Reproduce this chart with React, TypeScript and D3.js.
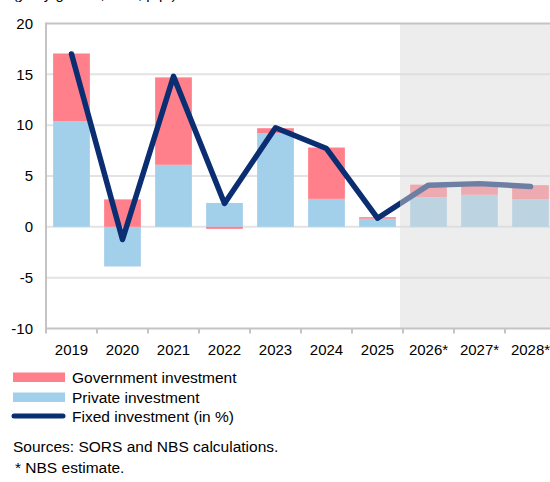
import React from "react";
import * as d3 from "d3";

const years = ["2019", "2020", "2021", "2022", "2023", "2024", "2025", "2026*", "2027*", "2028*"];
const privateInv = [10.4, -3.9, 6.1, 2.35, 9.2, 2.75, 0.8, 2.9, 3.15, 2.7];
const governmentInv = [6.65, 2.7, 8.6, -0.2, 0.5, 5.05, 0.15, 1.25, 0.9, 1.4];
const fixedInv = [17.0, -1.25, 14.8, 2.3, 9.75, 7.7, 0.85, 4.1, 4.25, 3.97];
const yTicks = [-10, -5, 0, 5, 10, 15, 20];
const forecastStart = "2026*";

const PINK = "#ff7f8b";
const BLUE = "#a2cfea";
const NAVY = "#0b2e73";
const FONT = "'Liberation Sans', Arial, sans-serif";

export default function App() {
  const W = 550, H = 482;
  const left = 46, right = 556, top = 23.5, bottom = 328.5;

  const x = d3.scaleBand<string>().domain(years).range([left, right]).paddingInner(0.28).paddingOuter(0.14);
  const step = x.step();
  const y = d3.scaleLinear().domain([-10, 20]).range([bottom, top]);

  const rows = years.map((yr, i) => ({ year: yr, priv: privateInv[i], gov: governmentInv[i] }));
  const stack = d3.stack<any>().keys(["priv", "gov"]).offset(d3.stackOffsetDiverging);
  const series = stack(rows);
  const colors: Record<string, string> = { priv: BLUE, gov: PINK };

  const center = (yr: string) => (x(yr) as number) + x.bandwidth() / 2;
  const line = d3.line<number>().x((_, i) => center(years[i])).y((d) => y(d));

  const catStart = (yr: string) => (x(yr) as number) - (step - x.bandwidth()) / 2;
  const shadeX = catStart(forecastStart) - 3;

  return (
    <svg width={W} height={H} style={{ position: "absolute", left: 0, top: 0 }} fontFamily={FONT}>
      <rect x={0} y={0} width={W} height={H} fill="#fff" />
      <text x={13} y={-0.8} fontSize={15} fill="#000">(y-o-y growth, in %; p.p.)</text>

      {yTicks.filter((t) => t !== 20 && t !== -10).map((t) => (
        <line key={t} x1={left} x2={W} y1={y(t)} y2={y(t)} stroke="#e3e3e3" strokeWidth={2} />
      ))}

      {series.map((s) => (
        <g key={s.key} fill={colors[s.key]}>
          {s.map((d, i) => (
            <rect key={i} x={x(years[i])} width={x.bandwidth()} y={y(Math.max(d[0], d[1]))}
              height={Math.abs(y(d[0]) - y(d[1]))} />
          ))}
        </g>
      ))}

      <path d={line(fixedInv) || ""} fill="none" stroke={NAVY} strokeWidth={5.5}
        strokeLinejoin="round" strokeLinecap="round" />

      <rect x={shadeX} y={top} width={W - shadeX} height={bottom - top} fill="rgb(217,217,217)" fillOpacity={0.48} />

      <line x1={left} x2={W} y1={y(20)} y2={y(20)} stroke="#c4c4c4" strokeWidth={2} />
      <line x1={left} x2={left} y1={top - 1} y2={bottom + 5} stroke="#c4c4c4" strokeWidth={2} />
      <line x1={left} x2={W} y1={bottom} y2={bottom} stroke="#c4c4c4" strokeWidth={2} />
      {years.map((yr) => (
        <line key={yr} x1={catStart(yr) + step} x2={catStart(yr) + step} y1={bottom} y2={bottom + 5}
          stroke="#c4c4c4" strokeWidth={2} />
      ))}

      {yTicks.map((t) => (
        <text key={t} x={33} y={y(t)} dy="0.35em" textAnchor="end" fontSize={15} fill="#000">{t}</text>
      ))}
      {years.map((yr) => (
        <text key={yr} x={center(yr)} y={355} textAnchor="middle" fontSize={15} fill="#000">{yr}</text>
      ))}

      <rect x={13} y={372.5} width={52} height={9.5} fill={PINK} />
      <text x={72} y={382.5} fontSize={15.5} fill="#000">Government investment</text>
      <rect x={13} y={392.5} width={52} height={9.5} fill={BLUE} />
      <text x={72} y={402.5} fontSize={15.5} fill="#000">Private investment</text>
      <line x1={14} x2={63} y1={416} y2={416} stroke={NAVY} strokeWidth={5} strokeLinecap="round" />
      <text x={72} y={421.5} fontSize={15.5} fill="#000">Fixed investment (in %)</text>

      <text x={13} y={452} fontSize={15.5} fill="#000">Sources: SORS and NBS calculations.</text>
      <text x={15} y={473} fontSize={15.5} fill="#000">* NBS estimate.</text>
    </svg>
  );
}
